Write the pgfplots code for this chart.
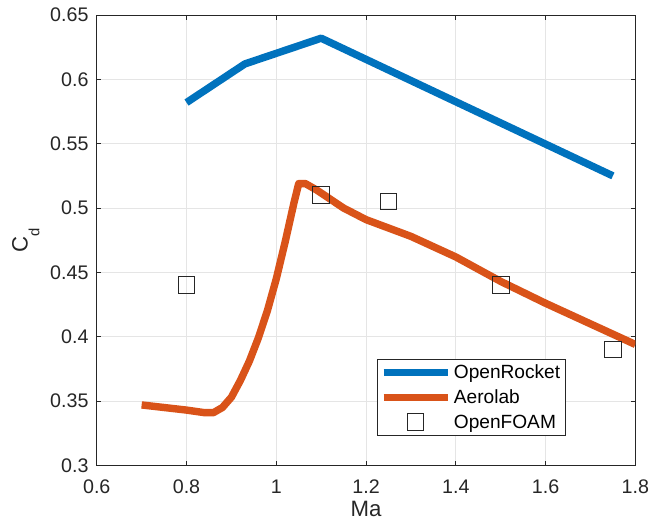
\documentclass[border=0pt]{standalone}
\usepackage{pgfplots}
\pgfplotsset{compat=1.18}
\usepackage{fontspec}
\setmainfont{Liberation Sans}
\definecolor{mblue}{rgb}{0,0.447,0.741}
\definecolor{morange}{rgb}{0.85,0.325,0.098}
\definecolor{axgray}{gray}{0.15}
\pgfplotsset{
  lineleg/.style={legend image code/.code={\draw[##1] (0cm,0cm) -- (1.67cm,0cm);}},
  markleg/.style={legend image code/.code={\draw[##1, only marks, mark repeat=2, mark phase=2]
     plot coordinates {(0cm,0cm) (0.835cm,0cm) (1.67cm,0cm)};}},
}
\begin{document}
\begin{tikzpicture}
\begin{axis}[
    scale only axis,
    width=400pt, height=334.5pt,
    xmin=0.6, xmax=1.8, ymin=0.3, ymax=0.65,
    xtick={0.6,0.8,...,1.8}, ytick={0.3,0.35,...,0.65},
    yticklabels={0.3,0.35,0.4,0.45,0.5,0.55,0.6,0.65},
    xticklabels={0.6,0.8,1,1.2,1.4,1.6,1.8},
    /pgf/number format/assume math mode=true,
    tick align=inside, tick style={axgray, line width=0.5pt},
    major tick length=3.5pt,
    axis line style={axgray, line width=0.6pt},
    grid=major, grid style={gray!20, line width=0.5pt},
    ticklabel style={font=\fontsize{14.6}{16}\selectfont, text=axgray},
    yticklabel style={xshift=-2.6pt, inner ysep=6pt},
    xticklabel style={yshift=-7pt, inner xsep=0pt},
    xlabel={Ma},
    ylabel={C\raisebox{-8.75pt}{\fontsize{11}{11}\selectfont d}},
    label style={font=\fontsize{16.5}{18}\selectfont, text=axgray},
    xlabel style={yshift=1pt},
    ylabel style={inner ysep=9pt, yshift=-4.6pt},
    legend style={at={(0.871,0.066)}, anchor=south east, draw=axgray,
        font=\fontsize{14.2}{16}\selectfont, row sep=2pt,
        inner xsep=2pt, inner ysep=1.5pt,
        nodes={inner sep=2pt, text height=10.5pt, text depth=2pt}},
    legend cell align=left,
]
\addplot[mblue, line width=5.5pt, line join=round, lineleg] coordinates {
 (0.8,0.582) (0.93,0.612) (1.1,0.632) (1.75,0.525)};
\addlegendentry{OpenRocket}
\addplot[morange, line width=5.5pt, line join=round, lineleg] coordinates {
 (0.70,0.347) (0.75,0.345) (0.80,0.343) (0.84,0.341) (0.86,0.341) (0.88,0.345)
 (0.90,0.353) (0.92,0.366) (0.94,0.381) (0.96,0.399) (0.98,0.420) (1.00,0.445)
 (1.02,0.474) (1.04,0.505) (1.05,0.519) (1.065,0.519) (1.09,0.514) (1.12,0.507)
 (1.15,0.500) (1.20,0.491) (1.30,0.478) (1.40,0.462) (1.50,0.443) (1.60,0.426)
 (1.70,0.410) (1.80,0.394)};
\addlegendentry{Aerolab}
\addplot[only marks, mark=square, mark size=6.2pt, mark options={axgray, line width=0.75pt}, markleg]
 coordinates {(0.8,0.44) (1.1,0.51) (1.25,0.505) (1.5,0.44) (1.75,0.39)};
\addlegendentry{OpenFOAM}
\end{axis}
\end{tikzpicture}
\end{document}
